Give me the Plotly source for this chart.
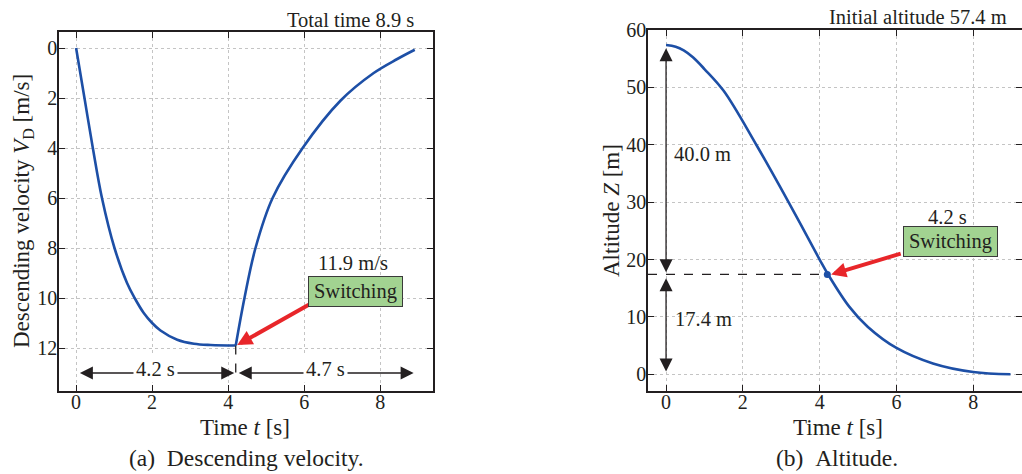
import plotly.graph_objects as go

# ---------------- data ----------------
# (a) descending velocity, accelerating phase
t_acc = [0, 0.22, 0.44, 0.68, 1.01, 1.34, 1.54, 1.78, 2.0, 2.22, 2.66, 3.1, 3.54, 4.2]
v_acc = [0, 2.0, 4.0, 6.0, 8.0, 9.4, 10.0, 10.6, 11.0, 11.3, 11.67, 11.83, 11.88, 11.9]
# (a) descending velocity, decelerating phase
t_dec = [4.2, 4.43, 4.72, 5.17, 5.96, 6.96, 7.83, 8.45, 8.91]
v_dec = [11.9, 10.0, 8.0, 6.0, 4.0, 2.1, 1.0, 0.44, 0.07]
# (b) altitude
t_alt = [0, 0.25, 0.46, 0.7, 1.0, 1.5, 2.35, 3.19, 4.0, 4.22, 4.77, 5.25, 6.0, 6.95, 8.0, 8.97]
z_alt = [57.4, 57.1, 56.45, 55.25, 53.2, 49.4, 40.0, 30.0, 20.0, 17.4, 11.8, 8.3, 4.6, 1.9, 0.4, 0.0]

x_ticks = [0, 2, 4, 6, 8]
v_ticks = [0, 2, 4, 6, 8, 10, 12]
z_ticks = [0, 10, 20, 30, 40, 50, 60]

t_switch = 4.2
v_switch = 11.9
z_switch = 17.4
z_init = 57.4
t_total = 8.9

# ---------------- style ----------------
FONT = "Liberation Serif"
INK = "#231f20"
BLUE = "#1d4fa6"
RED = "#e8262a"
GREEN = "#a2d391"
W, H = 1022, 474

fig = go.Figure()

LINE = dict(color=BLUE, width=2.6, shape="spline", smoothing=1.0)
fig.add_trace(go.Scatter(x=t_acc, y=v_acc, mode="lines", line=LINE,
                         xaxis="x", yaxis="y", showlegend=False, hoverinfo="skip"))
fig.add_trace(go.Scatter(x=t_dec, y=v_dec, mode="lines", line=LINE,
                         xaxis="x", yaxis="y", showlegend=False, hoverinfo="skip"))
fig.add_trace(go.Scatter(x=t_alt, y=z_alt, mode="lines", line=LINE,
                         xaxis="x2", yaxis="y2", showlegend=False, hoverinfo="skip"))
fig.add_trace(go.Scatter(x=[t_switch], y=[z_switch], mode="markers", marker=dict(color=BLUE, size=7),
                         xaxis="x2", yaxis="y2", showlegend=False, hoverinfo="skip"))

def xax(domain, rng):
    return dict(domain=domain, range=rng, tickvals=x_ticks, ticks="inside", ticklen=6, tickwidth=1.3,
                tickcolor=INK, showline=True, linecolor=INK, linewidth=1.6, mirror="ticks", automargin=False,
                showgrid=True, gridcolor="#c4c4c4", griddash="dot", gridwidth=1, zeroline=False,
                ticklabelstandoff=-8, tickfont=dict(family=FONT, size=20, color=INK))

def yax(domain, rng, ticks, anchor):
    return dict(domain=domain, range=rng, tickvals=ticks, ticks="inside", ticklen=6, tickwidth=1.3,
                tickcolor=INK, showline=True, linecolor=INK, linewidth=1.6, mirror="ticks", automargin=False,
                showgrid=True, gridcolor="#c4c4c4", griddash="dot", gridwidth=1, zeroline=False,
                ticklabelstandoff=-4, tickfont=dict(family=FONT, size=20, color=INK), anchor=anchor)

fig.update_layout(
    width=W, height=H, margin=dict(l=0, r=0, t=0, b=0, autoexpand=False),
    paper_bgcolor="white", plot_bgcolor="white",
    font=dict(family=FONT, color=INK),
    xaxis=dict(**xax([59 / W, 433 / W], [-0.45, 9.39]), anchor="y"),
    yaxis=yax([(H - 391) / H, (H - 32) / H], [13.72, -0.64], v_ticks, "x"),
    xaxis2=dict(**xax([648 / W, 1.0], [-0.47, 9.27]), anchor="y2"),
    yaxis2=yax([(H - 391) / H, (H - 30) / H], [-2.91, 60.0], z_ticks, "x2"),
)

TF = dict(family=FONT, size=23, color=INK)
AF = dict(family=FONT, size=20.5, color=INK)

ann = []
# axis titles
ann.append(dict(text="Time <i>t</i> [s]", xref="paper", yref="paper", x=245 / W, y=(H - 427) / H,
                xanchor="center", yanchor="middle", showarrow=False, font=TF))
ann.append(dict(text="Time <i>t</i> [s]", xref="paper", yref="paper", x=838 / W, y=(H - 427) / H,
                xanchor="center", yanchor="middle", showarrow=False, font=TF))
ann.append(dict(text="Descending velocity <i>V</i><sub>D</sub> [m/s]", xref="paper", yref="paper",
                x=23 / W, y=(H - 211) / H, xanchor="center", yanchor="middle", textangle=-90,
                showarrow=False, font=TF))
ann.append(dict(text="Altitude <i>Z</i> [m]", xref="paper", yref="paper",
                x=611 / W, y=(H - 211) / H, xanchor="center", yanchor="middle", textangle=-90,
                showarrow=False, font=TF))
# header texts
ann.append(dict(text="Total time %.1f s" % t_total, xref="x", yref="paper", x=8.95, y=(H - 20) / H,
                xanchor="right", yanchor="middle", showarrow=False, font=AF))
ann.append(dict(text="Initial altitude %.1f m" % z_init, xref="x2", yref="paper", x=8.93, y=(H - 17) / H,
                xanchor="right", yanchor="middle", showarrow=False, font=AF))
# captions
ann.append(dict(text="(a)\u00a0\u00a0Descending velocity.", xref="paper", yref="paper", x=246 / W, y=(H - 458) / H,
                xanchor="center", yanchor="middle", showarrow=False, font=dict(family=FONT, size=23.5, color=INK)))
ann.append(dict(text="(b)\u00a0\u00a0Altitude.", xref="paper", yref="paper", x=837 / W, y=(H - 458) / H,
                xanchor="center", yanchor="middle", showarrow=False, font=dict(family=FONT, size=23.5, color=INK)))

# (a) dimension arrows
def dbl_arrow(xr, yr, x0, y0, x1, y1):
    return dict(text="", xref=xr, yref=yr, axref=xr, ayref=yr, x=x1, y=y1, ax=x0, ay=y0,
                showarrow=True, arrowside="end+start", arrowhead=2, startarrowhead=2,
                arrowsize=2.0, startarrowsize=2.0, arrowwidth=1.3, arrowcolor=INK, standoff=0, startstandoff=0)

ann.append(dbl_arrow("x", "y", 0.06, 13.0, 4.16, 13.0))
ann.append(dbl_arrow("x", "y", 4.24, 13.0, 8.88, 13.0))
ann.append(dict(text="%.1f s" % t_switch, xref="x", yref="y", x=2.1, y=12.85, showarrow=False, bgcolor="white",
                borderpad=2, font=AF))
ann.append(dict(text="%.1f s" % (t_total - t_switch), xref="x", yref="y", x=6.57, y=12.85, showarrow=False,
                bgcolor="white", borderpad=2, font=AF))
# (a) switching label
ann.append(dict(text="%.1f m/s" % v_switch, xref="x", yref="y", x=7.29, y=8.6, showarrow=False, font=AF))
ann.append(dict(text="", xref="x", yref="y", axref="x", ayref="y", x=4.24, y=11.88, ax=6.16, ay=10.24,
                showarrow=True, arrowhead=2, arrowsize=0.75, arrowwidth=4, arrowcolor=RED, standoff=0))
ann.append(dict(text="Switching", xref="x", yref="y", x=7.36, y=9.72, showarrow=False, bgcolor=GREEN,
                bordercolor="#3a3a3a", borderwidth=1, borderpad=3, width=87, font=AF))

# (b) dimension arrows
ann.append(dbl_arrow("x2", "y2", 0, 57.1, 0, 17.8))
ann.append(dbl_arrow("x2", "y2", 0, 17.0, 0, 0.5))
ann.append(dict(text="%.1f m" % (z_init - z_switch), xref="x2", yref="y2", x=0.15, y=38.4, xanchor="left",
                showarrow=False, font=AF))
ann.append(dict(text="%.1f m" % z_switch, xref="x2", yref="y2", x=0.17, y=9.6, xanchor="left",
                showarrow=False, font=AF))
# (b) switching label
ann.append(dict(text="%.1f s" % t_switch, xref="x2", yref="y2", x=7.33, y=27.5, showarrow=False, font=AF))
ann.append(dict(text="", xref="x2", yref="y2", axref="x2", ayref="y2", x=4.3, y=17.4, ax=6.15, ay=21.1,
                showarrow=True, arrowhead=2, arrowsize=0.75, arrowwidth=4, arrowcolor=RED, standoff=0))
ann.append(dict(text="Switching", xref="x2", yref="y2", x=7.41, y=23.1, showarrow=False, bgcolor=GREEN,
                bordercolor="#3a3a3a", borderwidth=1, borderpad=3, width=87, font=AF))

fig.update_layout(annotations=ann)

fig.update_layout(shapes=[
    dict(type="line", xref="x", yref="y", x0=t_switch, x1=t_switch, y0=v_switch, y1=13.1,
         line=dict(color=INK, width=1.3, dash="dash")),
    dict(type="line", xref="x2", yref="y2", x0=-0.47, x1=t_switch, y0=z_switch, y1=z_switch,
         line=dict(color=INK, width=1.3, dash="dash")),
])

fig.write_html("out.html", config={"displayModeBar": False},
               post_script="document.body.style.margin='0';document.body.style.overflow='hidden';")
